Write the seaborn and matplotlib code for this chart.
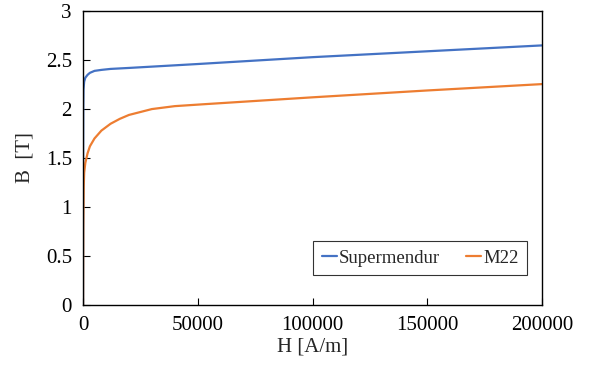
import matplotlib
matplotlib.use("Agg")
import matplotlib.pyplot as plt
import seaborn as sns
import pandas as pd

# Data
sup_H = [0, 50, 100, 200, 500, 1000, 2000, 3000, 5000, 8000, 12000, 20000, 50000, 100000, 150000, 200000]
sup_B = [0, 1.6, 2.0, 2.2, 2.28, 2.32, 2.35, 2.37, 2.39, 2.40, 2.41, 2.42, 2.46, 2.53, 2.59, 2.65]

m22_H = [0, 100, 300, 500, 1000, 2000, 3000, 5000, 8000, 12000, 16000, 20000, 25000, 30000, 40000, 53000, 100000, 150000, 200000]
m22_B = [0, 0.8, 1.2, 1.35, 1.45, 1.55, 1.62, 1.70, 1.78, 1.85, 1.90, 1.94, 1.97, 2.00, 2.03, 2.05, 2.12, 2.19, 2.255]

series_names = ["Supermendur", "M22"]
colors = ["#4472C4", "#ED7D31"]
x_ticks = [0, 50000, 100000, 150000, 200000]
y_ticks = [0, 0.5, 1, 1.5, 2, 2.5, 3]

df = pd.concat([
    pd.DataFrame({"H": sup_H, "B": sup_B, "Material": series_names[0]}),
    pd.DataFrame({"H": m22_H, "B": m22_B, "Material": series_names[1]}),
], ignore_index=True)

sns.set_style("ticks")
plt.rcParams['font.family'] = ['Liberation Serif', 'DejaVu Serif']

fig = plt.figure(figsize=(5.93, 3.71), dpi=100)
ax = fig.add_axes([0.140, 0.178, 0.774, 0.792])

sns.lineplot(data=df, x="H", y="B", hue="Material", palette=colors,
             hue_order=series_names, sort=False, estimator=None,
             linewidth=1.6, ax=ax)

ax.set_xlim(0, 200000)
ax.set_ylim(0, 3)
ax.set_xticks(x_ticks)
ax.set_xticklabels([str(v) for v in x_ticks])
ax.set_yticks(y_ticks)
ax.set_yticklabels([f"{v:g}" for v in y_ticks])
ax.tick_params(axis="both", direction="in", length=5, width=0.8, labelsize=15, colors="black")
ax.tick_params(axis="x", pad=8)
ax.tick_params(axis="y", pad=8)
for s in ax.spines.values():
    s.set_visible(True)
    s.set_color("black")
    s.set_linewidth(1.0)

ax.set_xlabel("H [A/m]", fontsize=15, labelpad=2)
ax.set_ylabel("B  [T]", fontsize=15, labelpad=8)

leg = ax.legend(title=None, loc="lower right", bbox_to_anchor=(0.967, 0.102),
                borderaxespad=0,
                ncol=2, fontsize=13.5, frameon=True, fancybox=False,
                handlelength=0.8, handletextpad=0.1, columnspacing=1.4,
                borderpad=0.45)
leg.get_frame().set_edgecolor("black")
leg.get_frame().set_linewidth(0.8)

fig.savefig("out.png", dpi=100)
